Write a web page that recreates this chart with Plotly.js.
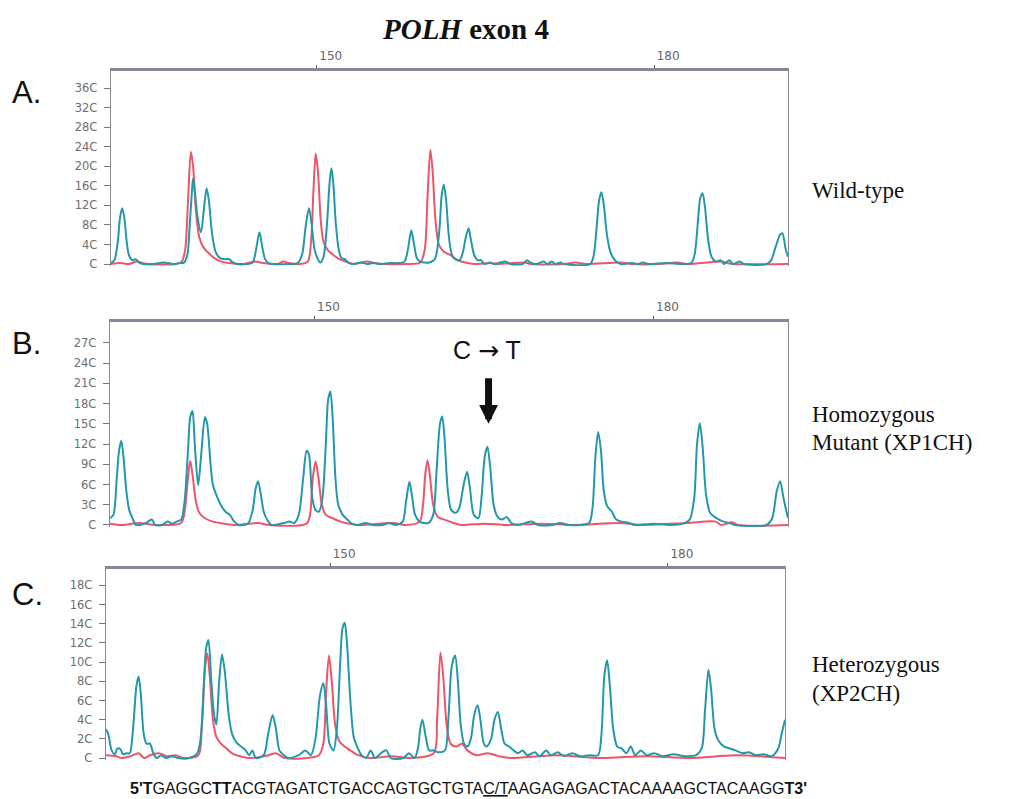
<!DOCTYPE html>
<html><head><meta charset="utf-8">
<script src="https://cdn.plot.ly/plotly-3.0.1.min.js"></script>
<style>body{margin:0;background:#fff}#c{width:1017px;height:799px}</style>
</head><body><div id="c"></div>
<script>
// ---- data (base position, signal) ----
const tealA = [[131.7,2],[132.0,8],[132.3,45],[132.5,95],[132.7,114],[132.9,92],[133.1,45],[133.3,18],[133.6,8],[133.9,10],[134.2,3],[134.6,0],[135.5,0],[136.3,3],[136.8,2],[137.3,0],[137.8,2],[138.2,3],[138.5,20],[138.7,80],[138.9,150],[139.0,175],[139.15,150],[139.4,95],[139.7,65],[139.95,110],[140.2,155],[140.4,130],[140.7,60],[141.0,25],[141.4,12],[141.8,10],[142.2,10],[142.5,4],[142.9,0],[143.8,0],[144.3,3],[144.6,30],[144.9,65],[145.15,35],[145.4,10],[145.7,2],[146.2,0],[147.5,0],[148.3,2],[148.7,20],[149.0,75],[149.3,114],[149.55,80],[149.8,30],[150.1,10],[150.3,3],[150.6,15],[150.9,80],[151.15,170],[151.3,196],[151.45,170],[151.7,80],[151.95,30],[152.2,12],[152.5,10],[152.8,3],[153.2,0],[154,3],[154.5,0],[155,2],[155.6,0],[156.5,2],[157.3,2],[157.8,5],[158.1,30],[158.4,69],[158.65,40],[158.9,12],[159.2,5],[159.6,3],[160,3],[160.5,10],[160.9,70],[161.1,140],[161.3,163],[161.5,130],[161.75,55],[162.0,20],[162.3,10],[162.7,8],[163.0,25],[163.25,55],[163.5,73],[163.7,50],[164.0,18],[164.3,8],[164.6,8],[164.9,0],[165.4,3],[165.8,0],[166.3,3],[166.8,5],[167.2,0],[168.3,0],[168.7,8],[169.0,3],[169.5,0],[170.2,5],[170.5,0],[170.9,5],[171.2,0],[171.7,3],[172.0,0],[174.3,0],[174.6,15],[174.9,80],[175.1,130],[175.3,147],[175.5,125],[175.8,60],[176.1,25],[176.5,8],[177.0,0],[178,2],[178.5,0],[179,3],[179.5,0],[181,2],[182.5,0],[183.3,2],[183.6,20],[183.9,90],[184.1,135],[184.3,145],[184.5,120],[184.8,50],[185.1,15],[185.5,5],[185.9,8],[186.2,0],[186.7,8],[187.0,0],[187.6,5],[188,0],[190,0],[190.4,8],[190.8,35],[191.2,60],[191.4,63],[191.7,30],[191.9,15]];
const redA = [[131.7,0],[132.5,2],[133.3,0],[134,5],[134.5,2],[135,0],[137.5,0],[138.0,5],[138.3,30],[138.55,130],[138.8,230],[139.0,200],[139.25,110],[139.55,55],[139.9,35],[140.4,22],[140.9,12],[141.5,5],[142.2,2],[143.5,0],[144.5,5],[145.3,2],[146.5,0],[147,5],[147.5,2],[148.5,0],[149.2,5],[149.5,50],[149.7,150],[149.9,226],[150.1,190],[150.35,90],[150.6,45],[151.0,28],[151.5,18],[152.0,10],[152.6,5],[153.2,0],[154.5,5],[155.2,2],[156,0],[158,0],[159.2,3],[159.6,30],[159.85,140],[160.1,234],[160.3,190],[160.55,90],[160.85,40],[161.3,25],[161.9,18],[162.5,8],[163.2,3],[164,0],[165.5,2],[166,0],[168.5,3],[169,0],[172,0],[173,3],[174,0],[177,3],[178,0],[180.5,0],[182,3],[183,0],[186,5],[186.5,2],[187,0],[191.9,0]];
const tealB = [[131.9,10],[132.2,15],[132.5,70],[132.7,110],[132.9,125],[133.1,100],[133.35,50],[133.6,22],[133.9,10],[134.2,0],[135,2],[135.6,8],[135.9,0],[136.5,0],[137,5],[137.4,2],[137.8,5],[138.2,8],[138.5,35],[138.8,110],[139.0,160],[139.2,169],[139.4,120],[139.7,59],[140.0,110],[140.3,160],[140.5,150],[140.8,90],[141.0,60],[141.3,45],[141.7,30],[142.1,20],[142.5,15],[142.9,5],[143.3,0],[144.1,2],[144.5,20],[144.8,55],[145.0,65],[145.25,45],[145.5,20],[145.8,8],[146.2,0],[147.3,3],[147.8,5],[148.2,3],[148.6,15],[149.0,70],[149.3,110],[149.5,105],[149.8,40],[150.1,22],[150.4,20],[150.7,40],[151.0,120],[151.2,185],[151.4,198],[151.6,160],[151.85,70],[152.1,30],[152.5,15],[152.9,8],[153.3,2],[153.8,0],[154.5,3],[155.2,0],[156,0],[156.6,3],[157.2,0],[157.8,5],[158.1,35],[158.4,64],[158.65,40],[158.9,15],[159.3,5],[159.7,3],[160.1,3],[160.5,15],[160.8,80],[161.1,150],[161.3,161],[161.5,130],[161.8,50],[162.1,22],[162.5,18],[162.8,25],[163.2,60],[163.5,79],[163.75,55],[164.1,15],[164.5,10],[164.8,45],[165.05,100],[165.3,116],[165.55,85],[165.85,30],[166.2,12],[166.6,8],[167,12],[167.4,3],[168,0],[169.2,5],[169.8,0],[171,0],[171.7,3],[172.5,0],[173.5,0],[174.3,3],[174.6,25],[174.85,100],[175.1,138],[175.35,110],[175.6,50],[175.9,28],[176.3,20],[176.7,8],[177.2,5],[177.8,3],[178.4,0],[180,2],[181.5,0],[182.6,2],[183.2,8],[183.6,40],[183.85,120],[184.1,151],[184.35,115],[184.65,45],[185,18],[185.4,12],[185.8,8],[186.2,5],[186.7,3],[187.2,0],[190,0],[190.5,10],[190.9,50],[191.2,65],[191.5,40],[191.9,10]];
const redB = [[131.9,2],[133,0],[134.5,3],[136,0],[138.2,3],[138.5,20],[138.8,70],[139.0,95],[139.2,75],[139.5,35],[139.8,18],[140.3,10],[141,5],[142,2],[143,0],[145,3],[146,0],[149.3,2],[149.6,15],[149.85,70],[150.1,94],[150.35,70],[150.65,30],[151,15],[151.6,10],[152.3,5],[153,2],[154,0],[157,3],[158,0],[159.3,5],[159.6,30],[159.8,75],[160.0,96],[160.2,75],[160.5,30],[160.9,12],[161.5,8],[162.3,3],[163,0],[165,2],[167,0],[170,2],[173,0],[177,3],[179,0],[183,3],[185.5,5],[186,0],[187,4],[187.5,0],[191.9,0]];
const tealC = [[130.1,30],[130.3,25],[130.6,8],[130.9,4],[131.1,10],[131.4,9],[131.6,4],[131.9,5],[132.2,5],[132.5,30],[132.8,75],[133.0,85],[133.2,65],[133.45,25],[133.7,15],[134.0,15],[134.3,5],[134.6,0],[135,3],[135.4,0],[136.0,2],[136.5,0],[137.5,0],[138.2,5],[138.5,20],[138.8,80],[139.0,115],[139.2,123],[139.45,80],[139.7,45],[139.9,35],[140.15,80],[140.4,108],[140.65,90],[141.0,45],[141.3,25],[141.7,16],[142.1,12],[142.5,8],[142.8,3],[143.1,8],[143.4,0],[144.1,3],[144.5,25],[144.9,45],[145.2,30],[145.5,8],[145.9,3],[146.3,0],[147.2,3],[147.8,8],[148.3,3],[148.7,20],[149.1,65],[149.4,78],[149.65,55],[149.95,15],[150.3,8],[150.6,30],[150.9,100],[151.1,135],[151.3,141],[151.5,120],[151.8,60],[152.1,22],[152.4,12],[152.8,3],[153.2,0],[153.6,8],[154,0],[154.6,6],[155,8],[155.4,0],[156.5,0],[157,5],[157.5,0],[157.8,10],[158.0,30],[158.2,40],[158.5,22],[158.8,8],[159.2,8],[159.6,6],[160.2,8],[160.5,40],[160.8,95],[161.1,107],[161.35,80],[161.6,35],[161.9,15],[162.2,12],[162.5,20],[162.8,45],[163.1,55],[163.35,40],[163.65,15],[163.9,12],[164.3,20],[164.6,40],[164.9,48],[165.2,30],[165.5,15],[165.9,12],[166.3,8],[166.7,5],[167.1,8],[167.5,3],[168.2,6],[168.6,2],[169.2,8],[169.6,3],[170.2,6],[170.8,2],[171.5,5],[172.2,2],[173,3],[173.8,3],[174.1,25],[174.35,85],[174.6,102],[174.85,75],[175.15,30],[175.5,12],[175.9,10],[176.3,5],[176.7,12],[177.1,3],[177.6,8],[178.1,3],[178.8,5],[179.5,2],[180.5,4],[181.5,2],[182.5,3],[183.0,10],[183.3,50],[183.6,92],[183.85,70],[184.15,30],[184.5,18],[185,12],[185.5,10],[186,8],[186.6,5],[187.2,6],[187.8,3],[188.5,4],[189.2,2],[189.8,10],[190.1,25],[190.4,40]];
const redC = [[130.1,3],[131,2],[131.5,0],[132.3,2],[133,5],[133.5,0],[134,3],[134.8,5],[135.5,2],[136.3,3],[137,0],[138.3,3],[138.6,30],[138.9,95],[139.1,109],[139.35,80],[139.6,40],[139.9,22],[140.3,15],[140.8,10],[141.3,5],[142,2],[143,0],[144.5,3],[145.2,5],[146,0],[149,3],[149.4,15],[149.65,70],[149.9,107],[150.15,80],[150.45,35],[150.8,18],[151.3,12],[151.8,8],[152.5,3],[153.5,0],[155.5,2],[157,0],[159.2,5],[159.5,40],[159.8,110],[160.05,85],[160.35,35],[160.7,15],[161.2,12],[161.7,15],[162.2,8],[163,3],[164,5],[165,2],[166,0],[170,3],[174,0],[178,2],[182,0],[186,3],[190.4,0]];

const xTickVals = [150, 180];
const xTickText = ['150', '180'];
const yTicksA = [0,40,80,120,160,200,240,280,320,360];
const yTextA  = ['C','4C','8C','12C','16C','20C','24C','28C','32C','36C'];
const yTicksB = [0,30,60,90,120,150,180,210,240,270];
const yTextB  = ['C','3C','6C','9C','12C','15C','18C','21C','24C','27C'];
const yTicksC = [0,20,40,60,80,100,120,140,160,180];
const yTextC  = ['C','2C','4C','6C','8C','10C','12C','14C','16C','18C'];

const panelLabels = ['A.', 'B.', 'C.'];
const sampleLines = ['Wild-type', 'Homozygous', 'Mutant (XP1CH)', 'Heterozygous', '(XP2CH)'];
const sequenceText = "<b>5'T</b>GAGGC<b>TT</b>ACGTAGATCTGACCAGTGCTGTA<u>C/T</u>AAGAGAGACTACAAAAGCTACAAGG<b>T3'</b>";

// ---- styles ----
const RED = '#ef5468', TEAL = '#2398aa';
function tr(pts, color, xa, ya) {
  return {type:'scatter', mode:'lines', x: pts.map(p=>p[0]), y: pts.map(p=>p[1]),
    xaxis: xa, yaxis: ya, line:{color:color, width:2, shape:'spline', smoothing:0.8},
    hoverinfo:'skip', showlegend:false};
}
const data = [
  tr(redA, RED, 'x', 'y'), tr(tealA, TEAL, 'x', 'y'),
  tr(redB, RED, 'x2', 'y2'), tr(tealB, TEAL, 'x2', 'y2'),
  tr(redC, RED, 'x3', 'y3'), tr(tealC, TEAL, 'x3', 'y3')
];
function xax(dom, range, anchor) {
  return {domain: dom, range: range, anchor: anchor, side:'top', showline:true, linewidth:3, linecolor:'#86869a',
    ticks:'outside', ticklen:3, tickcolor:'#555', tickvals:xTickVals, ticktext:xTickText,
    ticklabelshift: 14, tickfont:{family:'DejaVu Sans', size:12, color:'#666'}, showgrid:false, zeroline:false, fixedrange:true};
}
function yax(dom, range, vals, txt, anchor) {
  return {domain: dom, range: range, anchor: anchor, showline:true, mirror:true, linewidth:1.3, linecolor:'#8a8a8a',
    ticks:'outside', ticklen:6, tickcolor:'#777', tickvals: vals, ticktext: txt, ticklabelstandoff:4,
    tickfont:{family:'DejaVu Sans', size:11.5, color:'#6e6e6e'}, showgrid:false, zeroline:false, fixedrange:true};
}
const W = 1017, H = 799;
const px = v => v / W, py = v => 1 - v / H;
function txt(t, x, y, size, fam, xanchor) {
  return {text:t, xref:'paper', yref:'paper', x:px(x), y:py(y), xanchor:xanchor||'left', yanchor:'middle',
    showarrow:false, font:{family:fam, size:size, color:'#111'}};
}
const SERIF = 'Liberation Serif', SANS = 'Liberation Sans';
const layout = {
  width: W, height: H, margin:{l:0, r:0, t:0, b:0}, paper_bgcolor:'#fff', plot_bgcolor:'#fff',
  xaxis: xax([px(111), px(788)], [131.7, 191.9], 'y'),
  yaxis: yax([py(266), py(71)], [-4, 395], yTicksA, yTextA, 'x'),
  xaxis2: xax([px(110), px(788)], [131.9, 191.9], 'y2'),
  yaxis2: yax([py(527), py(322)], [-3, 301], yTicksB, yTextB, 'x2'),
  xaxis3: xax([px(106), px(785)], [130.1, 190.4], 'y3'),
  yaxis3: yax([py(760), py(569)], [-2, 197], yTicksC, yTextC, 'x3'),
  annotations: [
    txt('<b><i>POLH</i> exon 4</b>', 465, 29, 29, SERIF, 'center'),
    txt(panelLabels[0], 10, 93, 31, SANS),
    txt(panelLabels[1], 10, 343, 31, SANS),
    txt(panelLabels[2], 10, 594, 31, SANS),
    txt(sampleLines[0], 810, 190, 23, SERIF),
    txt(sampleLines[1], 810, 414, 23, SERIF),
    txt(sampleLines[2], 810, 443, 23, SERIF),
    txt(sampleLines[3], 810, 664, 23, SERIF),
    txt(sampleLines[4], 810, 693, 23, SERIF),
    txt('C <span style="font-family:DejaVu Sans">→</span> T', 487, 350, 25, SANS, 'center'),
    {text:'', xref:'x2', yref:'y2', x:165.4, y:150, ax:0, ay:-47, showarrow:true, arrowhead:2, arrowsize:0.54, arrowwidth:7, arrowcolor:'#111'},
    txt(sequenceText, 468, 788, 16, SANS, 'center')
  ]
};
Plotly.newPlot('c', data, layout, {staticPlot:true, displayModeBar:false});
</script></body></html>
